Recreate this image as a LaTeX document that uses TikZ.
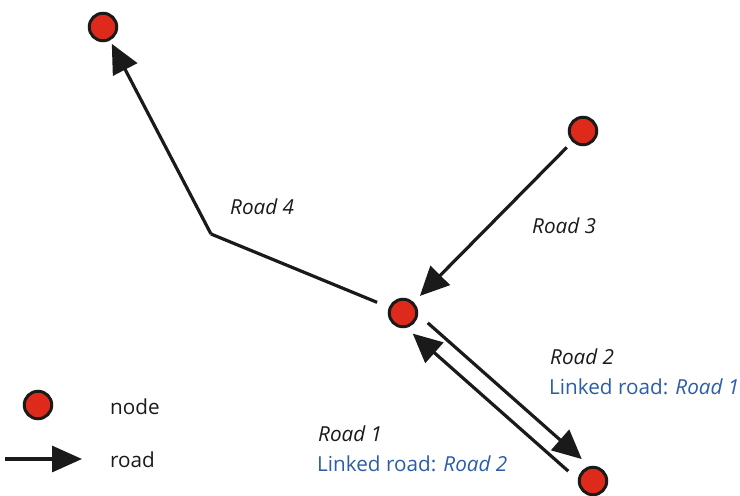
\documentclass[tikz,border=0pt]{standalone}
\usepackage{fontspec}
\setmainfont{Open Sans}
\usetikzlibrary{arrows.meta,calc}
\definecolor{nodered}{HTML}{DD2A1B}
\definecolor{linkblue}{HTML}{2B5DAA}
\definecolor{ink}{HTML}{1A1A1A}
\tikzset{
  city/.style={circle,draw=ink,fill=nodered,line width=3pt,minimum size=27.5pt,inner sep=0pt},
  road/.style={draw=ink,line width=3.2pt,-{Triangle[length=29pt,width=27pt]}},
  seg/.style={draw=ink,line width=3.2pt},
  lbl/.style={font=\fontsize{20.7}{24}\selectfont\itshape,text=ink,anchor=base west,inner sep=0pt},
  lnk/.style={font=\fontsize{20.7}{24}\selectfont,text=linkblue,anchor=base west,inner sep=0pt},
  leg/.style={font=\fontsize{20.7}{24}\selectfont,text=ink,anchor=base west,inner sep=0pt}
}
\begin{document}
\begin{tikzpicture}[x=1pt,y=-1pt]
\useasboundingbox (0,0) rectangle (740,496);
\node[city] (A) at (103,27) {};
\node[city] (B) at (583,131) {};
\node[city] (C) at (403,313) {};
\node[city] (D) at (593,481) {};
\node[city] (L) at (38,405) {};
\coordinate (bend) at (211,234);
\coordinate (ls) at (5,459);
\coordinate (le) at (82,459);
% Road 4
\draw[seg, shorten <=28pt] (C.center) -- (bend);
\draw[road, shorten >=19pt] (bend) -- (A.center);
% Road 3
\draw[road, shorten <=23pt, shorten >=24pt] (B.center) -- (C.center);
% Road 2 (C -> D)
\draw[road, shorten <=25pt, shorten >=23pt] ([shift={(6,-6.7)}]C.center) -- ([shift={(6,-6.7)}]D.center);
% Road 1 (D -> C)
\draw[road, shorten <=25pt, shorten >=21pt] ([shift={(-6,6.7)}]D.center) -- ([shift={(-6,6.7)}]C.center);
% legend arrow
\draw[road, -{Triangle[length=30pt,width=26pt]}] (ls) -- (le);
% labels
\node[lbl] (t4) at (230,214) {Road 4};
\node[lbl] (t3) at (532,233) {Road 3};
\node[lbl] (t2) at (550,364) {Road 2};
\node[lnk] (k2) at (549,394) {Linked road: \textit{Road 1}};
\node[lbl] (t1) at (318,441) {Road 1};
\node[lnk] (k1) at (317,471) {Linked road: \textit{Road 2}};
\node[leg] (ln) at (110,414) {node};
\node[leg] (lr) at (110,467) {road};
\end{tikzpicture}
\end{document}
